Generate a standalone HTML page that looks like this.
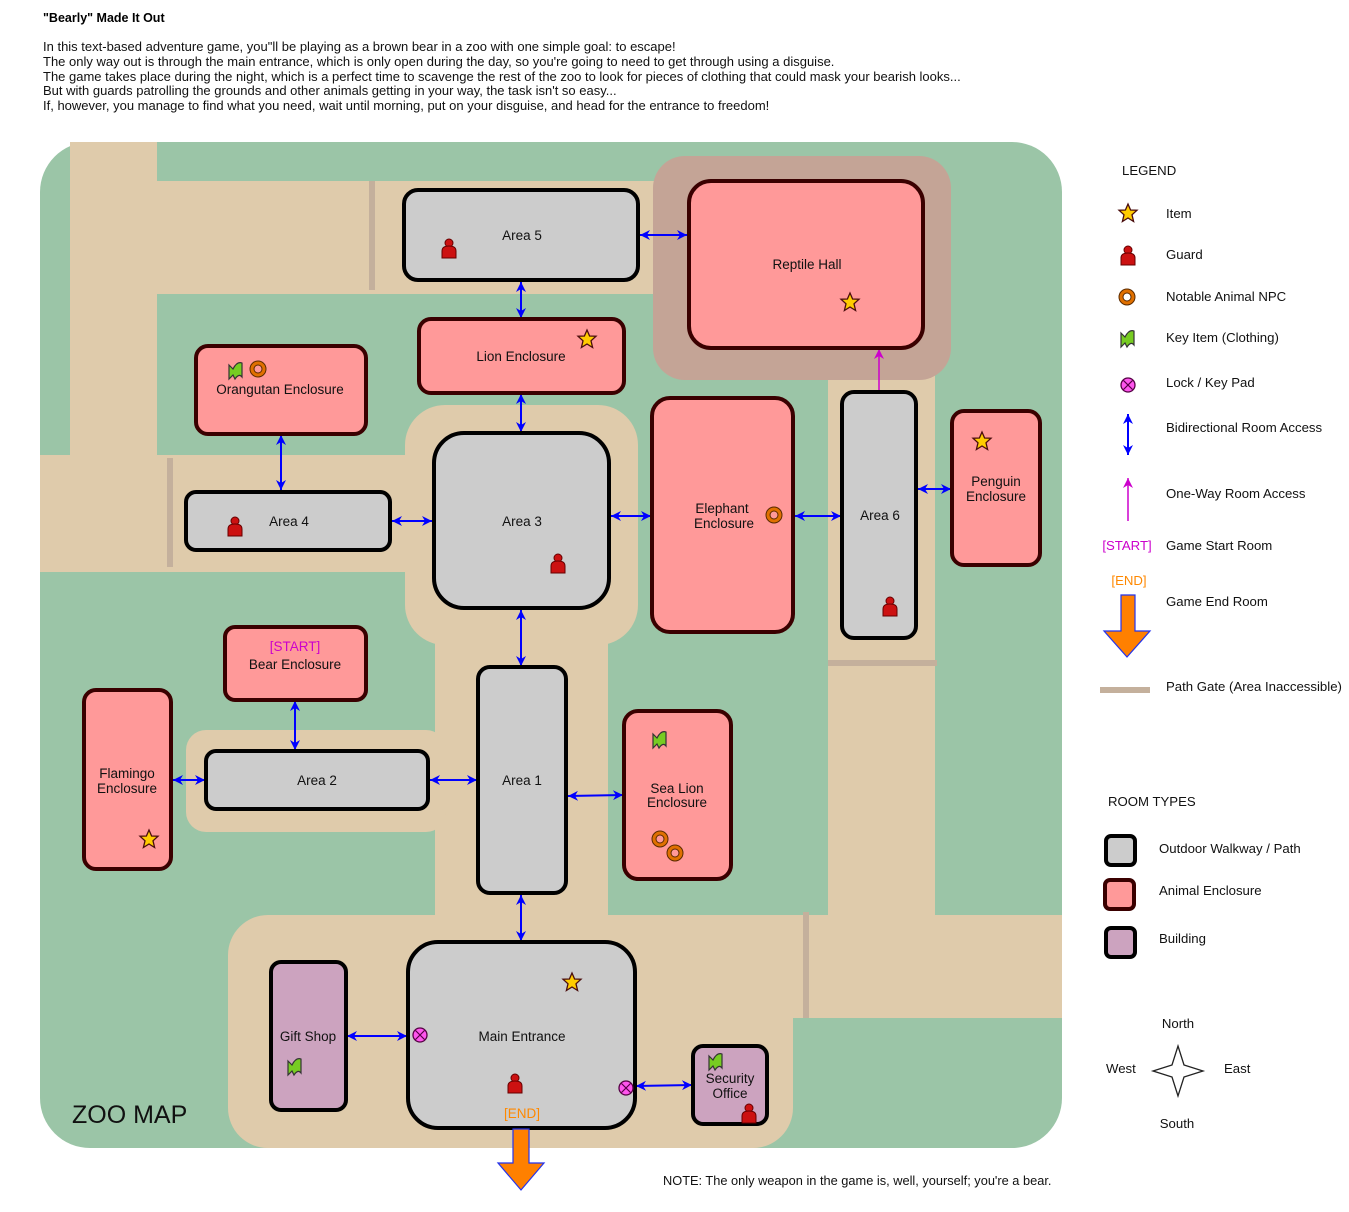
<!DOCTYPE html>
<html><head><meta charset="utf-8"><style>
html,body{margin:0;padding:0;background:#fff;}
svg{display:block;font-family:"Liberation Sans",Arial,sans-serif;}
.lbl{font-size:13.5px;fill:#111;text-anchor:middle;}
.leg{font-size:13.2px;fill:#111;}
.intro{font-size:13px;fill:#111;}
</style></head><body>
<svg width="1349" height="1212" viewBox="0 0 1349 1212">
<defs>
<marker id="ab" markerWidth="12" markerHeight="12" refX="10" refY="5" orient="auto-start-reverse" markerUnits="userSpaceOnUse"><path d="M0,0 L10,5 L0,10 L3,5 Z" fill="#0000ff"/></marker>
<marker id="am" markerWidth="12" markerHeight="12" refX="10" refY="5" orient="auto" markerUnits="userSpaceOnUse"><path d="M0,0 L10,5 L0,10 L3,5 Z" fill="#cc00cc"/></marker>
<g id="star"><polygon points="0,-9 2.6,-3 9,-2.8 4,1.8 5.6,8.5 0,5 -5.6,8.5 -4,1.8 -9,-2.8 -2.6,-3" fill="#ffcc00" stroke="#4a0d0d" stroke-width="1.3"/></g>
<g id="guard"><circle cx="0" cy="-5" r="4" fill="#cc1111" stroke="#660000" stroke-width="1"/><path d="M-7,10 L-7,3 Q-7,-2 0,-2 Q7,-2 7,3 L7,10 Z" fill="#cc1111" stroke="#660000" stroke-width="1"/></g>
<g id="ring"><circle r="6" fill="none" stroke="#5a2a00" stroke-width="5"/><circle r="6" fill="none" stroke="#e07000" stroke-width="3"/></g>
<g id="key"><path d="M-7,-6 L-3,-2 Q1,-10 6,-8 L6,6 Q3,2 -1,8 L-3,4 L-7,8 Z" fill="#77cc22" stroke="#333" stroke-width="1.2"/></g>
<g id="lock"><circle r="7" fill="#ff55ee" stroke="#550044" stroke-width="1.3"/><path d="M-4.5,-4.5 L4.5,4.5 M4.5,-4.5 L-4.5,4.5" stroke="#550044" stroke-width="1.2"/></g>
</defs>

<text x="43" y="22" font-size="12.5" font-weight="bold">"Bearly" Made It Out</text>
<g>
<text x="43" y="51" class="intro">In this text-based adventure game, you"ll be playing as a brown bear in a zoo with one simple goal: to escape!</text>
<text x="43" y="66" class="intro">The only way out is through the main entrance, which is only open during the day, so you're going to need to get through using a disguise.</text>
<text x="43" y="81" class="intro">The game takes place during the night, which is a perfect time to scavenge the rest of the zoo to look for pieces of clothing that could mask your bearish looks...</text>
<text x="43" y="95" class="intro">But with guards patrolling the grounds and other animals getting in your way, the task isn't so easy...</text>
<text x="43" y="110" class="intro">If, however, you manage to find what you need, wait until morning, put on your disguise, and head for the entrance to freedom!</text>
</g>

<rect x="40" y="142" width="1022" height="1006" rx="50" fill="#9bc5a7"/>
<g fill="#dfcbab">
<path d="M70,142 L157,142 L157,572 L40,572 L40,455 L70,455 Z"/>
<rect x="157" y="181" width="500" height="113"/>
<rect x="157" y="455" width="280" height="117"/>
<rect x="405" y="405" width="233" height="240" rx="40"/>
<rect x="435" y="620" width="173" height="310"/>
<rect x="186" y="730" width="260" height="102" rx="20"/>
<rect x="228" y="915" width="565" height="233" rx="40"/>
<rect x="400" y="915" width="662" height="103"/>
<rect x="828" y="370" width="107" height="560"/>
</g>
<rect x="653" y="156" width="298" height="224" rx="32" fill="#c4a496"/>
<g fill="#c4b09c">
<rect x="369" y="181" width="6" height="109"/>
<rect x="167" y="458" width="6" height="109"/>
<rect x="828" y="660" width="109" height="6"/>
<rect x="803" y="912" width="6" height="106"/>
</g>

<g stroke="#0000ff" stroke-width="2" marker-start="url(#ab)" marker-end="url(#ab)">
<line x1="640" y1="235" x2="687" y2="235"/>
<line x1="521" y1="282" x2="521" y2="318"/>
<line x1="521" y1="394" x2="521" y2="432"/>
<line x1="281" y1="435" x2="281" y2="490"/>
<line x1="392" y1="521" x2="432" y2="521"/>
<line x1="611" y1="516" x2="651" y2="516"/>
<line x1="795" y1="516" x2="841" y2="516"/>
<line x1="918" y1="489" x2="951" y2="489"/>
<line x1="521" y1="610" x2="521" y2="666"/>
<line x1="295" y1="701" x2="295" y2="750"/>
<line x1="173" y1="780" x2="205" y2="780"/>
<line x1="430" y1="780" x2="477" y2="780"/>
<line x1="568" y1="796" x2="623" y2="795"/>
<line x1="521" y1="895" x2="521" y2="941"/>
<line x1="347" y1="1036" x2="407" y2="1036"/>
<line x1="636" y1="1086" x2="692" y2="1085"/>
</g>
<line x1="879" y1="391" x2="879" y2="349" stroke="#cc00cc" stroke-width="1.5" marker-end="url(#am)"/>

<g><rect x="404" y="190" width="234" height="90" rx="14" fill="#cccccc" stroke="#000" stroke-width="4"/><text x="522" y="240" class="lbl">Area 5</text><use href="#guard" x="449" y="248"/></g>
<g><rect x="689" y="181" width="234" height="167" rx="22" fill="#ff9999" stroke="#3a0000" stroke-width="4"/><text x="807" y="269" class="lbl">Reptile Hall</text><use href="#star" x="850" y="302"/></g>
<g><rect x="419" y="319" width="205" height="74" rx="12" fill="#ff9999" stroke="#3a0000" stroke-width="4"/><text x="521" y="361" class="lbl">Lion Enclosure</text><use href="#star" x="587" y="339"/></g>
<g><rect x="196" y="346" width="170" height="88" rx="12" fill="#ff9999" stroke="#3a0000" stroke-width="4"/><text x="280" y="394" class="lbl">Orangutan Enclosure</text><use href="#key" x="236" y="371"/><use href="#ring" x="258" y="369"/></g>
<g><rect x="186" y="492" width="204" height="58" rx="10" fill="#cccccc" stroke="#000" stroke-width="4"/><text x="289" y="526" class="lbl">Area 4</text><use href="#guard" x="235" y="526"/></g>
<g><rect x="434" y="433" width="175" height="175" rx="30" fill="#cccccc" stroke="#000" stroke-width="4"/><text x="522" y="526" class="lbl">Area 3</text><use href="#guard" x="558" y="563"/></g>
<g><rect x="652" y="398" width="141" height="234" rx="18" fill="#ff9999" stroke="#3a0000" stroke-width="4"/><text x="722" y="513" class="lbl">Elephant</text><text x="724" y="528" class="lbl">Enclosure</text><use href="#ring" x="774" y="515"/></g>
<g><rect x="842" y="392" width="74" height="246" rx="12" fill="#cccccc" stroke="#000" stroke-width="4"/><text x="880" y="520" class="lbl">Area 6</text><use href="#guard" x="890" y="606"/></g>
<g><rect x="952" y="411" width="88" height="154" rx="12" fill="#ff9999" stroke="#3a0000" stroke-width="4"/><text x="996" y="486" class="lbl">Penguin</text><text x="996" y="501" class="lbl">Enclosure</text><use href="#star" x="982" y="441"/></g>
<g><rect x="225" y="627" width="141" height="73" rx="10" fill="#ff9999" stroke="#3a0000" stroke-width="4"/><text x="295" y="651" class="lbl" style="fill:#cc00cc">[START]</text><text x="295" y="669" class="lbl">Bear Enclosure</text></g>
<g><rect x="84" y="690" width="87" height="179" rx="12" fill="#ff9999" stroke="#3a0000" stroke-width="4"/><text x="127" y="778" class="lbl">Flamingo</text><text x="127" y="793" class="lbl">Enclosure</text><use href="#star" x="149" y="839"/></g>
<g><rect x="206" y="751" width="222" height="58" rx="10" fill="#cccccc" stroke="#000" stroke-width="4"/><text x="317" y="785" class="lbl">Area 2</text></g>
<g><rect x="478" y="667" width="88" height="226" rx="12" fill="#cccccc" stroke="#000" stroke-width="4"/><text x="522" y="785" class="lbl">Area 1</text></g>
<g><rect x="624" y="711" width="107" height="168" rx="14" fill="#ff9999" stroke="#3a0000" stroke-width="4"/><text x="677" y="793" class="lbl">Sea Lion</text><text x="677" y="807" class="lbl">Enclosure</text><use href="#key" x="660" y="740"/><use href="#ring" x="660" y="839"/><use href="#ring" x="675" y="853"/></g>
<g><rect x="408" y="942" width="227" height="186" rx="30" fill="#cccccc" stroke="#000" stroke-width="4"/><text x="522" y="1041" class="lbl">Main Entrance</text><text x="522" y="1118" class="lbl" style="fill:#ff8800">[END]</text><use href="#star" x="572" y="982"/><use href="#guard" x="515" y="1083"/></g>
<g><rect x="271" y="962" width="75" height="148" rx="10" fill="#cca3bf" stroke="#000" stroke-width="4"/><text x="308" y="1041" class="lbl">Gift Shop</text><use href="#key" x="295" y="1067"/></g>
<g><rect x="693" y="1046" width="74" height="78" rx="10" fill="#cca3bf" stroke="#000" stroke-width="4"/><text x="730" y="1083" class="lbl">Security</text><text x="730" y="1098" class="lbl">Office</text><use href="#key" x="716" y="1062"/><use href="#guard" x="749" y="1113"/></g>
<use href="#lock" x="420" y="1035"/>
<use href="#lock" x="626" y="1088"/>
<path d="M513,1129 L529,1129 L529,1163 L544,1163 L521,1190 L498,1163 L513,1163 Z" fill="#ff8000" stroke="#2233ee" stroke-width="1.2"/>
<text x="72" y="1123" font-size="25" fill="#111">ZOO MAP</text>
<text x="663" y="1185" font-size="12.8" fill="#111">NOTE: The only weapon in the game is, well, yourself; you're a bear.</text>

<g>
<text x="1122" y="175" class="leg">LEGEND</text>
<use href="#star" x="1128" y="213"/><text x="1166" y="218" class="leg">Item</text>
<use href="#guard" x="1128" y="255"/><text x="1166" y="259" class="leg">Guard</text>
<use href="#ring" x="1127" y="297"/><text x="1166" y="301" class="leg">Notable Animal NPC</text>
<use href="#key" x="1128" y="339"/><text x="1166" y="342" class="leg">Key Item (Clothing)</text>
<use href="#lock" x="1128" y="385"/><text x="1166" y="387" class="leg">Lock / Key Pad</text>
<line x1="1128" y1="414" x2="1128" y2="455" stroke="#0000ff" stroke-width="2" marker-start="url(#ab)" marker-end="url(#ab)"/><text x="1166" y="432" class="leg">Bidirectional Room Access</text>
<line x1="1128" y1="521" x2="1128" y2="478" stroke="#cc00cc" stroke-width="1.5" marker-end="url(#am)"/><text x="1166" y="498" class="leg">One-Way Room Access</text>
<text x="1127" y="550" class="leg" text-anchor="middle" style="fill:#cc00cc">[START]</text><text x="1166" y="550" class="leg">Game Start Room</text>
<text x="1129" y="585" class="leg" text-anchor="middle" style="fill:#ff8800">[END]</text><text x="1166" y="606" class="leg">Game End Room</text>
<path d="M1121,595 L1135,595 L1135,631 L1150,631 L1127,657 L1104,631 L1121,631 Z" fill="#ff8000" stroke="#2233ee" stroke-width="1.2"/>
<rect x="1100" y="687" width="50" height="6" fill="#c4b09c"/><text x="1166" y="691" class="leg">Path Gate (Area Inaccessible)</text>
<text x="1108" y="806" class="leg">ROOM TYPES</text>
<rect x="1106" y="836" width="29" height="29" rx="5" fill="#cccccc" stroke="#000" stroke-width="4"/><text x="1159" y="853" class="leg">Outdoor Walkway / Path</text>
<rect x="1105" y="880" width="29" height="29" rx="5" fill="#ff9999" stroke="#3a0000" stroke-width="4"/><text x="1159" y="895" class="leg">Animal Enclosure</text>
<rect x="1106" y="928" width="29" height="29" rx="5" fill="#cca3bf" stroke="#000" stroke-width="4"/><text x="1159" y="943" class="leg">Building</text>
</g>
<g>
<path d="M1178,1046 L1184,1065 L1203,1071 L1184,1077 L1178,1096 L1172,1077 L1153,1071 L1172,1065 Z" fill="#fff" stroke="#222" stroke-width="1.3"/>
<text x="1178" y="1028" class="leg" text-anchor="middle">North</text>
<text x="1177" y="1128" class="leg" text-anchor="middle">South</text>
<text x="1106" y="1073" class="leg">West</text>
<text x="1224" y="1073" class="leg">East</text>
</g>
</svg>
</body></html>
